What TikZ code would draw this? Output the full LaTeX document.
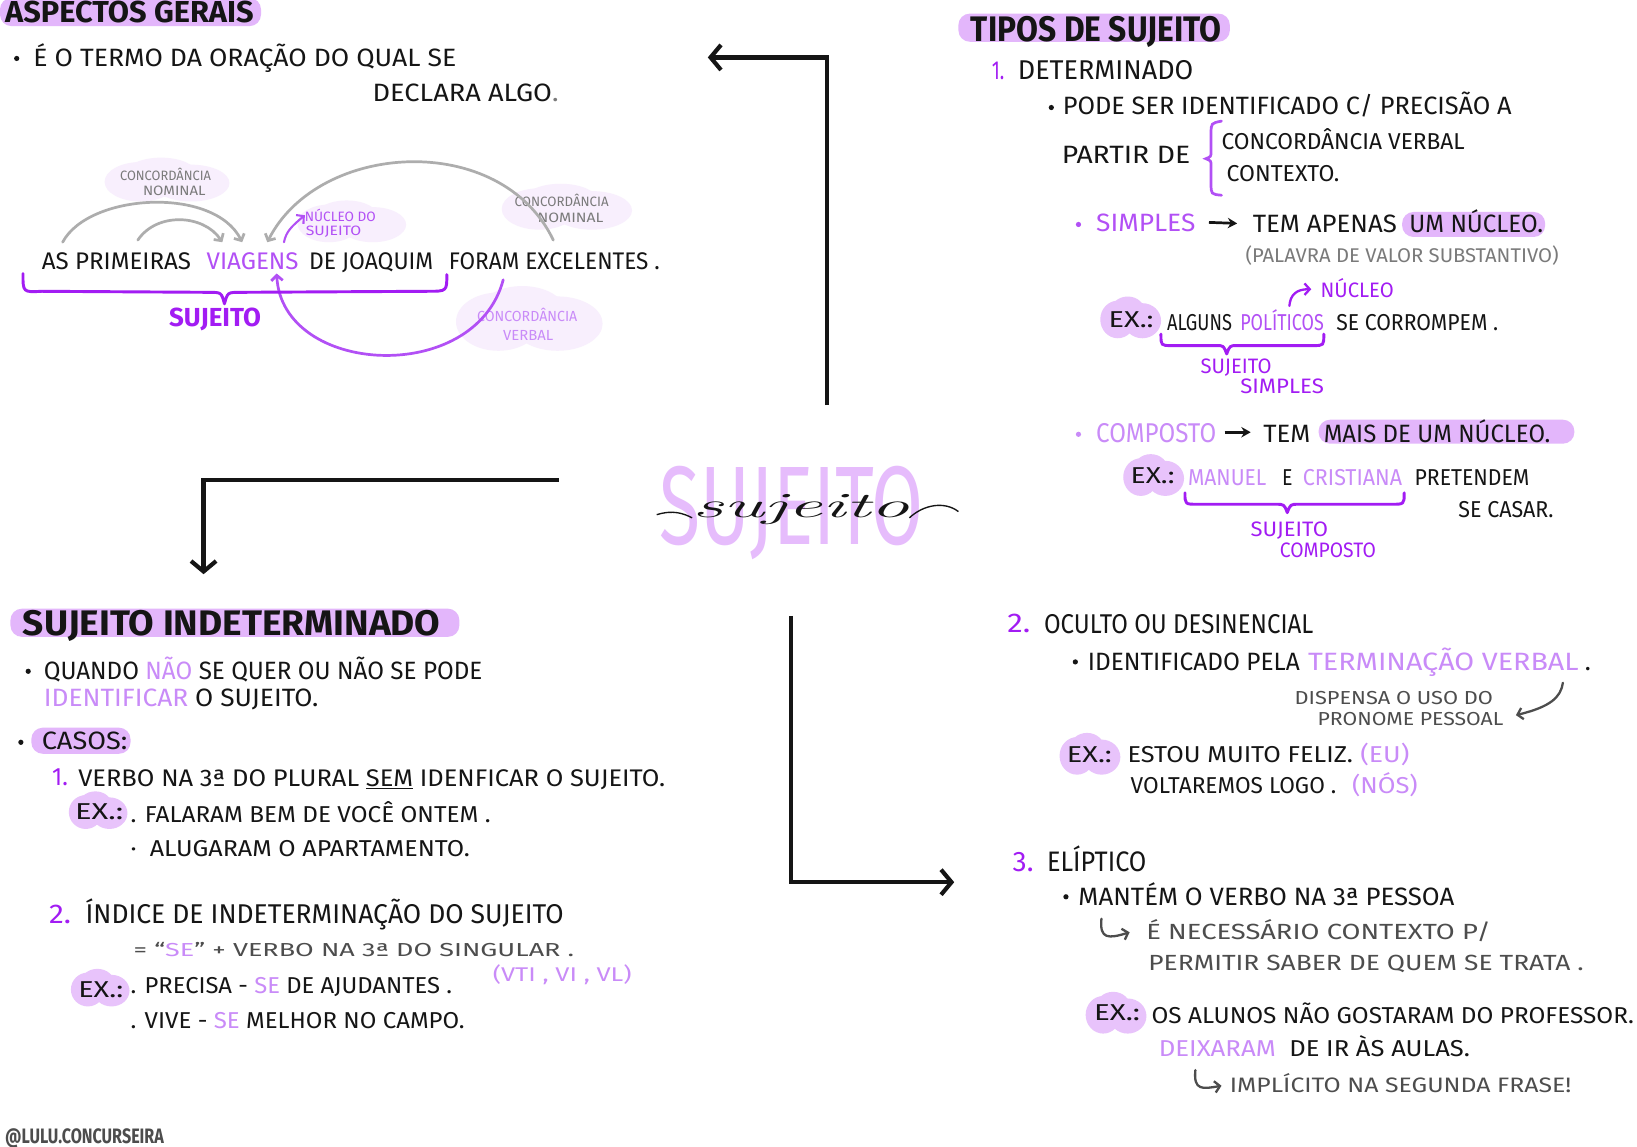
\documentclass[tikz,border=0pt]{standalone}
\usepackage{fontspec}
\setmainfont{Fira Sans}
\newfontfamily\lmr{Latin Modern Roman}
\usepackage{graphicx}
\usetikzlibrary{arrows.meta}
\definecolor{vp}{HTML}{A21CF3}
\definecolor{mp}{HTML}{B250F5}
\definecolor{lp}{HTML}{C98BF8}
\definecolor{hl}{HTML}{E3B6FB}
\definecolor{exc}{HTML}{E8C3FB}
\definecolor{big}{HTML}{E6BCFC}
\definecolor{pale}{HTML}{F8EFFD}
\definecolor{garc}{HTML}{ADADAD}
\definecolor{gt}{HTML}{7A7A7A}
\definecolor{dg}{HTML}{4D4D4D}
\definecolor{ink}{HTML}{151515}
\newcommand\fs[1]{\fontsize{#1}{#1}\selectfont}
\newcommand\tw[2]{\resizebox{#1pt}{\height}{#2}}
\newcommand\puff[5]{%
  \fill[#5] ({#1-0.22*#3},{#2+0.05*#4}) circle[x radius={0.30*#3}, y radius={0.45*#4}];
  \fill[#5] ({#1+0.2*#3},{#2+0.08*#4}) circle[x radius={0.32*#3}, y radius={0.42*#4}];
  \fill[#5] ({#1-0.05*#3},{#2-0.12*#4}) circle[x radius={0.30*#3}, y radius={0.38*#4}];}
\tikzset{
  t/.style={anchor=base west, inner sep=0pt, outer sep=0pt, text=ink},
  pill/.style={fill=hl, rounded corners=11pt},
  garrow/.style={draw=garc, line width=2.6pt, line cap=round, -{Straight Barb[length=5pt,width=11pt]}},
  parrow/.style={line width=2.6pt, line cap=round, -{Straight Barb[length=5pt,width=11pt]}},
  bigarr/.style={draw=ink, line width=4pt, -{Straight Barb[length=10pt,width=24pt]}},
  smallarr/.style={draw=ink, line width=2.6pt, -{Stealth[length=9pt,width=10pt]}},
  brace/.style={draw=vp, line width=2.8pt, line cap=round, line join=round},
  dot/.style={fill=ink},
}
\begin{document}
\begin{tikzpicture}[x=1pt,y=-1pt]
\useasboundingbox (0,0) rectangle (1568,1098);
\fill[white] (0,0) rectangle (1568,1098);

% ---------- ASPECTOS GERAIS ----------
\fill[pill] (0,-2) rectangle (250,25);
\node[t,font=\fs{29}\bfseries] (h1) at (5,22) {\tw{238}{ASPECTOS GERAIS}};
\fill[dot] (16,56) circle (2.5);
\node[t,font=\fs{24}] (l1) at (32,64) {\tw{405}{É O TERMO DA ORAÇÃO DO QUAL SE}};
\node[t,font=\fs{24}] (l2) at (357,97) {\tw{178}{DECLARA ALGO\textcolor{gt}{.}}};

% pale clouds
\puff{160}{172}{115}{42}{pale}
\puff{337}{212}{100}{40}{pale}
\puff{543}{198}{120}{44}{pale}
\puff{507}{305}{135}{62}{pale}

\node[t,font=\fs{13},text=gt] (cn1a) at (115,173) {\tw{87}{CONCORDÂNCIA}};
\node[t,font=\fs{13},text=gt] (cn1b) at (137,187) {\tw{60}{NOMINAL}};
\node[t,font=\fs{13},text=mp] (nu1) at (292,212) {\tw{68}{NÚCLEO DO}};
\node[t,font=\fs{13},text=mp] (nu2) at (293,226) {\tw{53}{SUJEITO}};
\node[t,font=\fs{13},text=gt] (cn2a) at (493,198) {\tw{90}{CONCORDÂNCIA}};
\node[t,font=\fs{13},text=gt] (cn2b) at (515,213) {\tw{63}{NOMINAL}};
\node[t,font=\fs{14},text=lp] (cv1) at (457,308) {\tw{96}{CONCORDÂNCIA}};
\node[t,font=\fs{14},text=lp] (cv2) at (482,326) {\tw{48}{VERBAL}};

\node[t,font=\fs{23}] (s1) at (40,258) {\tw{143}{AS PRIMEIRAS}};
\node[t,font=\fs{23},text=mp] (s2) at (198,258) {\tw{88}{VIAGENS}};
\node[t,font=\fs{23}] (s3) at (296,258) {\tw{119}{DE JOAQUIM}};
\node[t,font=\fs{23}] (s4) at (430,258) {\tw{202}{FORAM EXCELENTES .}};

% arcs
\draw[garrow] ([shift={(20,-26)}]s1.base west) .. controls (85,185) and (205,178) .. ([shift={(34,-26)}]s2.base west);
\draw[garrow] ([shift={(92,-28)}]s1.base west) .. controls (150,203) and (195,205) .. ([shift={(15,-26)}]s2.base west);
\draw[garrow] ([shift={(100,-28)}]s4.base west) .. controls (480,125) and (305,135) .. ([shift={(58,-26)}]s2.base west);
\draw[parrow,draw=mp] ([shift={(52,10)}]s4.base west) .. controls (455,370) and (270,360) .. ([shift={(67,4)}]s2.base west);
\draw[parrow,draw=mp,line width=2pt] ([shift={(74,-26)}]s2.base west) .. controls (274,222) and (279,217) .. (nu1.west);

\draw[brace] (22,262) .. controls (22,280) .. (40,279) -- (200,280) .. controls (212,280) .. (215,291) .. controls (218,280) .. (230,280) -- (410,279) .. controls (428,279) .. (428,263);
\node[t,font=\fs{25}\bfseries,text=vp] (suj1) at (162,313) {\tw{88}{SUJEITO}};

% ---------- centre ----------
\node[t,font=\fs{107},text=big] (bigS) at (632,522) {\tw{253}{SUJEITO}};
\node[t,font=\lmr\itshape\fs{34}] (scr) at (663,496) {\tw{208}{sujeito}};
\draw[ink,line width=1.3pt] (629,493) .. controls (645,488) and (655,492) .. (scr.base west);
\draw[ink,line width=1.3pt] (scr.base east) .. controls (885,483) and (905,480) .. (918,490);

% big arrows
\coordinate (a1s) at (792,388); \coordinate (a1e) at (678,55);
\draw[bigarr] (a1s) |- (a1e);
\coordinate (a2s) at (535,460); \coordinate (a2e) at (195,550);
\draw[bigarr] (a2s) -| (a2e);
\coordinate (a3s) at (758,590); \coordinate (a3e) at (914,845);
\draw[bigarr] (a3s) |- (a3e);

% ---------- TIPOS DE SUJEITO ----------
\fill[pill] (918,13) rectangle (1178,40);
\node[t,font=\fs{34}\bfseries] (h2) at (930,40) {\tw{240}{TIPOS DE SUJEITO}};
\node[t,font=\fs{25},text=vp] (n1) at (950,76) {\tw{12}{1.}};
\node[t,font=\fs{26}] (d1) at (975,76) {\tw{168}{DETERMINADO}};
\fill[dot] (1007,103) circle (2.5);
\node[t,font=\fs{24}] (p1) at (1018,110) {\tw{430}{PODE SER IDENTIFICADO C/ PRECISÃO A}};
\node[t,font=\fs{24}] (p2) at (1017,157) {\tw{123}{PARTIR DE}};
\draw[draw=mp,line width=2.6pt,line cap=round] (1170,116) .. controls (1160,118) .. (1160,128) -- (1160,145) .. controls (1160,150) .. (1155,152) .. controls (1160,154) .. (1160,159) -- (1160,176) .. controls (1160,186) .. (1170,187);
\node[t,font=\fs{22}] (p3) at (1170,143) {\tw{233}{CONCORDÂNCIA VERBAL}};
\node[t,font=\fs{22}] (p4) at (1175,174) {\tw{108}{CONTEXTO.}};

\fill[mp] (1033,215) circle (2.5);
\node[t,font=\fs{24},text=mp] (si) at (1050,222) {\tw{95}{SIMPLES}};
\node[t,font=\fs{24}] (te1) at (1200,223) {\tw{138}{TEM APENAS}};
\draw[smallarr] ([xshift=13pt,yshift=9pt]si.base east) -- ([xshift=-15pt,yshift=9pt]te1.base west);
\fill[pill] (1343,203) rectangle (1480,227);
\node[t,font=\fs{24}] (te2) at (1350,223) {\tw{128}{UM NÚCLEO.}};
\node[t,font=\fs{19},text=gt] (pa) at (1193,251) {\tw{300}{(PALAVRA DE VALOR SUBSTANTIVO)}};
\node[t,font=\fs{20},text=vp] (nuc) at (1265,285) {\tw{70}{NÚCLEO}};

\puff{1083}{304}{56}{40}{exc}
\node[t,font=\fs{22}] (ex1) at (1062,314) {\tw{43}{EX.:}};
\node[t,font=\fs{22}] (al1) at (1118,317) {\tw{62}{ALGUNS}};
\node[t,font=\fs{22},text=mp] (al2) at (1188,317) {\tw{80}{POLÍTICOS}};
\node[t,font=\fs{22}] (al3) at (1280,317) {\tw{155}{SE CORROMPEM .}};
\draw[parrow,draw=vp,line width=2.2pt] ([shift={(47,-24)}]al2.base west) .. controls (1236,282) and (1242,277) .. ([xshift=-9pt,yshift=8pt]nuc.base west);
\draw[brace] (1112,320) .. controls (1112,331) .. (1122,331) -- (1165,331) .. controls (1172,331) .. (1175,339) .. controls (1178,331) .. (1185,331) -- (1258,331) .. controls (1268,331) .. (1268,320);
\node[t,font=\fs{20},text=vp] (ss1) at (1150,358) {\tw{68}{SUJEITO}};
\node[t,font=\fs{20},text=vp] (ss2) at (1188,377) {\tw{80}{SIMPLES}};

\fill[lp] (1033,416) circle (2.5);
\node[t,font=\fs{26},text=lp] (co) at (1050,424) {\tw{115}{COMPOSTO}};
\node[t,font=\fs{24}] (te3) at (1210,424) {\tw{45}{TEM}};
\draw[smallarr] ([xshift=8pt,yshift=10pt]co.base east) -- ([xshift=-12pt,yshift=10pt]te3.base west);
\fill[pill] (1263,402) rectangle (1508,425);
\node[t,font=\fs{24}] (te4) at (1268,424) {\tw{217}{MAIS DE UM NÚCLEO.}};

\puff{1105}{455}{56}{40}{exc}
\node[t,font=\fs{22}] (ex2) at (1083,463) {\tw{42}{EX.:}};
\node[t,font=\fs{22},text=lp] (m1) at (1138,465) {\tw{75}{MANUEL}};
\node[t,font=\fs{22}] (m2) at (1228,465) {\tw{10}{E}};
\node[t,font=\fs{22},text=lp] (m3) at (1248,465) {\tw{95}{CRISTIANA}};
\node[t,font=\fs{22}] (m4) at (1355,465) {\tw{110}{PRETENDEM}};
\node[t,font=\fs{22}] (m5) at (1397,496) {\tw{91}{SE CASAR.}};
\draw[brace] (1135,472) .. controls (1135,483) .. (1147,483) -- (1222,483) .. controls (1230,483) .. (1233,491) .. controls (1236,483) .. (1244,483) -- (1333,483) .. controls (1345,483) .. (1345,472);
\node[t,font=\fs{20},text=vp] (sc1) at (1198,514) {\tw{74}{SUJEITO}};
\node[t,font=\fs{20},text=vp] (sc2) at (1226,534) {\tw{92}{COMPOSTO}};

% ---------- OCULTO ----------
\node[t,font=\fs{26},text=vp] (n2) at (965,606) {\tw{22}{2.}};
\node[t,font=\fs{26}] (oc) at (1000,607) {\tw{258}{OCULTO OU DESINENCIAL}};
\fill[dot] (1030,634) circle (2.5);
\node[t,font=\fs{24}] (id1) at (1042,642) {\tw{203}{IDENTIFICADO PELA}};
\node[t,font=\fs{24},text=lp] (id2) at (1253,642) {\tw{259}{TERMINAÇÃO VERBAL}};
\node[t,font=\fs{24}] (id3) at (1518,642) {.};
\node[t,font=\fs{18},text=dg] (ds1) at (1240,675) {\tw{190}{DISPENSA O USO DO}};
\node[t,font=\fs{18},text=dg] (ds2) at (1262,695) {\tw{178}{PRONOME PESSOAL}};
\draw[parrow,draw=dg,line width=2.2pt] ([shift={(-15,12)}]id2.base east) .. controls (1495,668) and (1485,677) .. ([shift={(12,-10)}]ds2.base east);
\puff{1044}{722}{56}{40}{exc}
\node[t,font=\fs{22}] (ex3) at (1022,730) {\tw{43}{EX.:}};
\node[t,font=\fs{22}] (es1) at (1080,730) {\tw{216}{ESTOU MUITO FELIZ.}};
\node[t,font=\fs{22},text=lp] (es2) at (1303,730) {\tw{47}{(EU)}};
\node[t,font=\fs{22}] (vo1) at (1083,760) {\tw{197}{VOLTAREMOS LOGO .}};
\node[t,font=\fs{22},text=lp] (vo2) at (1295,760) {\tw{63}{(NÓS)}};

% ---------- ELIPTICO ----------
\node[t,font=\fs{27},text=vp] (n3) at (970,835) {\tw{20}{3.}};
\node[t,font=\fs{27}] (el) at (1003,835) {\tw{95}{ELÍPTICO}};
\fill[dot] (1021,859) circle (2.5);
\node[t,font=\fs{24}] (ma) at (1033,867) {\tw{360}{MANTÉM O VERBO NA 3ª PESSOA}};
\node[t,font=\fs{21},text=dg] (ne1) at (1098,900) {\tw{330}{É NECESSÁRIO CONTEXTO P/}};
\node[t,font=\fs{21},text=dg] (ne2) at (1100,930) {\tw{417}{PERMITIR SABER DE QUEM SE TRATA .}};
\draw[parrow,draw=dg,line width=2.2pt] (1055,880) .. controls (1053,900) and (1062,899) .. ([shift={(-16,-7)}]ne1.base west);
\puff{1069}{970}{56}{40}{exc}
\node[t,font=\fs{22}] (ex4) at (1048,977) {\tw{44}{EX.:}};
\node[t,font=\fs{22}] (os) at (1103,980) {\tw{462}{OS ALUNOS NÃO GOSTARAM DO PROFESSOR.}};
\node[t,font=\fs{22},text=lp] (de1) at (1110,1012) {\tw{112}{DEIXARAM}};
\node[t,font=\fs{22}] (de2) at (1235,1012) {\tw{173}{DE IR ÀS AULAS.}};
\node[t,font=\fs{20},text=dg] (im) at (1178,1046) {\tw{327}{IMPLÍCITO NA SEGUNDA FRASE!}};
\draw[parrow,draw=dg,line width=2.2pt] (1145,1025) .. controls (1143,1045) and (1152,1043) .. ([shift={(-8,-6)}]im.base west);

% ---------- SUJEITO INDETERMINADO ----------
\fill[pill] (10,583) rectangle (440,610);
\node[t,font=\fs{34}\bfseries] (h3) at (22,609) {\tw{400}{SUJEITO INDETERMINADO}};
\fill[dot] (27,643) circle (2.5);
\node[t,font=\fs{24}] (q1) at (42,651) {\tw{420}{QUANDO \textcolor{lp}{NÃO} SE QUER OU NÃO SE PODE}};
\node[t,font=\fs{24}] (q2) at (42,677) {\tw{263}{\textcolor{lp}{IDENTIFICAR} O SUJEITO.}};
\fill[dot] (20,711) circle (2.5);
\fill[pill] (30,697) rectangle (125,722);
\node[t,font=\fs{24}] (ca) at (40,718) {\tw{82}{CASOS:}};
\node[t,font=\fs{24},text=vp] (c1n) at (50,752) {\tw{15}{1.}};
\node[t,font=\fs{23}] (c1) at (75,753) {\tw{562}{VERBO NA 3ª DO PLURAL \underline{SEM} IDENFICAR O SUJEITO.}};
\puff{94}{776}{54}{36}{exc}
\node[t,font=\fs{22}] (ex5) at (72,785) {\tw{46}{EX.:}};
\node[t,font=\fs{22}] (f1) at (125,788) {\tw{345}{. FALARAM BEM DE VOCÊ ONTEM .}};
\node[t,font=\fs{22}] (f2) at (125,820) {\tw{325}{·\ \ ALUGARAM O APARTAMENTO.}};
\node[t,font=\fs{26},text=vp] (c2n) at (47,885) {\tw{21}{2.}};
\node[t,font=\fs{26}] (c2) at (82,885) {\tw{458}{ÍNDICE DE INDETERMINAÇÃO DO SUJEITO}};
\node[t,font=\fs{18},text=dg] (eq) at (128,916) {\tw{422}{= “\textcolor{lp}{SE}” + VERBO NA 3ª DO SINGULAR .}};
\node[t,font=\fs{19},text=lp] (vt) at (472,940) {\tw{133}{(VTI , VI , VL)}};
\puff{96}{946}{54}{36}{exc}
\node[t,font=\fs{22}] (ex6) at (75,955) {\tw{43}{EX.:}};
\node[t,font=\fs{22}] (pr) at (125,952) {\tw{308}{. PRECISA - \textcolor{lp}{SE} DE AJUDANTES .}};
\node[t,font=\fs{22}] (vi) at (125,985) {\tw{320}{. VIVE - \textcolor{lp}{SE} MELHOR NO CAMPO.}};

\node[t,font=\fs{20}\bfseries,text=dg] (ft) at (5,1095) {\tw{152}{@LULU.CONCURSEIRA}};
\end{tikzpicture}
\end{document}
